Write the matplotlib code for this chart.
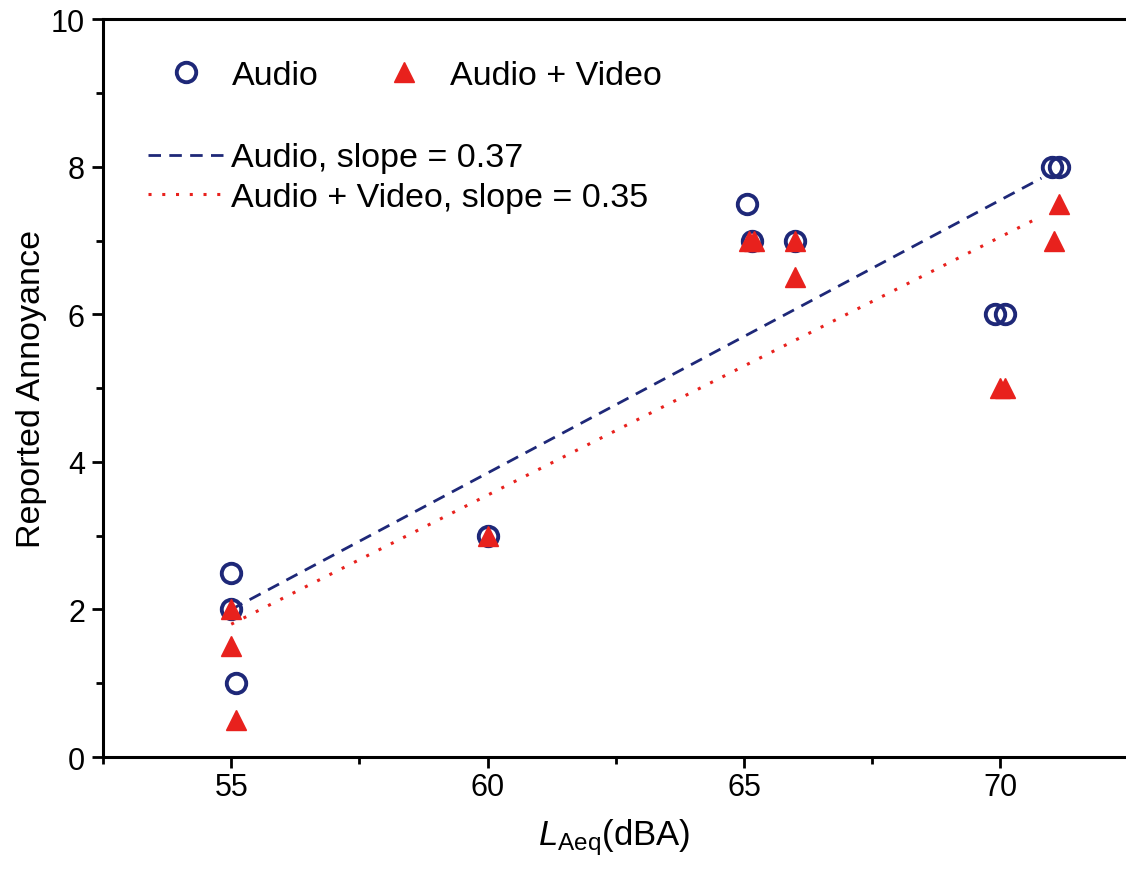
import numpy as np
import matplotlib.pyplot as plt
from matplotlib.lines import Line2D
from matplotlib.ticker import MultipleLocator

plt.rcParams['font.family'] = ['Liberation Sans', 'DejaVu Sans']
plt.rcParams['mathtext.fontset'] = 'custom'
plt.rcParams['mathtext.rm'] = 'Liberation Sans'
plt.rcParams['mathtext.it'] = 'Liberation Sans:italic'

# Audio only (circles)
audio_x = [55.0, 55.0, 55.1, 60.0, 65.05, 65.15, 66.0, 69.9, 70.1, 71.0, 71.15]
audio_y = [2.5, 2.0, 1.0, 3.0, 7.5, 7.0, 7.0, 6.0, 6.0, 8.0, 8.0]

# Audio + Video (triangles)
av_x = [55.0, 55.0, 55.1, 60.0, 65.1, 65.2, 66.0, 66.0, 70.0, 70.1, 71.05, 71.15]
av_y = [2.0, 1.5, 0.5, 3.0, 7.0, 7.0, 7.0, 6.5, 5.0, 5.0, 7.0, 7.5]

# linear fits: value at 55 dBA and slope
fit_range = [55.0, 70.8]
audio_fit = (2.0, 0.37)
av_fit = (1.8, 0.35)

NAVY = '#1e2878'
RED = '#e8211d'

fig = plt.figure(figsize=(11.26, 8.70), dpi=100)
ax = fig.add_axes([0.0915, 0.1287, 0.9085, 0.848])

fx = np.array(fit_range)
ax.plot(fx, audio_fit[0] + audio_fit[1] * (fx - 55), ls=(0, (4.5, 3)), color=NAVY, lw=2.0)
ax.plot(fx, av_fit[0] + av_fit[1] * (fx - 55), ls=(0, (1, 3.5)), color=RED, lw=2.2)

ax.plot(audio_x, audio_y, 'o', ms=14, mfc='none', mec=NAVY, mew=2.8, ls='none')
ax.plot(av_x, av_y, '^', ms=14.5, color=RED, mec=RED, ls='none')

ax.set_xlim(52.5, 72.45)
ax.set_ylim(0, 10)
ax.set_xticks([55, 60, 65, 70])
ax.xaxis.set_minor_locator(MultipleLocator(2.5))
ax.set_yticks(range(0, 11, 2))
ax.yaxis.set_minor_locator(MultipleLocator(1))
ax.tick_params(which='major', direction='out', length=8, width=2, labelsize=22)
ax.tick_params(axis='x', which='major', pad=3)
ax.tick_params(axis='y', which='major', pad=5)
ax.tick_params(which='minor', direction='out', length=5, width=2)
for s in ['left', 'bottom', 'top']:
    ax.spines[s].set_linewidth(2.2)
ax.spines['right'].set_visible(False)

ax.set_xlabel(r'$\mathit{L}_{\mathrm{Aeq}}$(dBA)', fontsize=25, labelpad=10)
ax.set_ylabel('Reported Annoyance', fontsize=24.5, labelpad=3)

h1 = [Line2D([], [], marker='o', ms=14, mfc='none', mec=NAVY, mew=2.8, ls='none'),
      Line2D([], [], marker='^', ms=14.5, color=RED, ls='none')]
leg1 = ax.legend(h1, ['Audio', 'Audio + Video'], ncol=2, loc='upper left',
                 bbox_to_anchor=(0.0645, 0.945), frameon=False, fontsize=24.5,
                 handlelength=1.0, handletextpad=0.85, columnspacing=2.0,
                 borderpad=0, borderaxespad=0)
ax.add_artist(leg1)

h2 = [Line2D([], [], ls=(0, (4.5, 3)), color=NAVY, lw=2.0),
      Line2D([], [], ls=(0, (1, 3.5)), color=RED, lw=2.2)]
ax.legend(h2, ['Audio, slope = 0.37', 'Audio + Video, slope = 0.35'], loc='upper left',
          bbox_to_anchor=(0.044, 0.833), frameon=False, fontsize=24.5,
          handlelength=2.3, handletextpad=0.15, labelspacing=0.25,
          borderpad=0, borderaxespad=0)

fig.savefig('out.png', dpi=100)
